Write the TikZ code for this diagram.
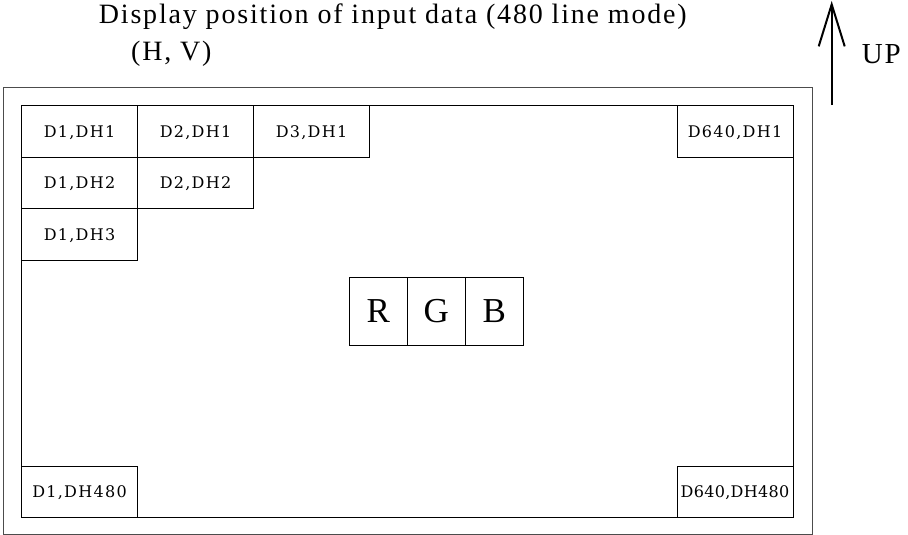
\documentclass[tikz,border=0pt]{standalone}
\usepackage{fontspec}
\setmainfont{Liberation Serif}
\newfontfamily\titlefont[LetterSpace=6.5]{Liberation Serif}
\newfontfamily\cellfont[LetterSpace=8]{DejaVu Serif}
\newfontfamily\tightcellfont[LetterSpace=2]{DejaVu Serif}
\usetikzlibrary{positioning,arrows.meta}

\tikzset{
  cell/.style={draw, line width=1pt, outer sep=0pt, inner sep=0pt,
    minimum width=116pt, minimum height=51.5pt, text depth=0pt,
    font=\cellfont\fontsize{16}{18}\selectfont},
  pix/.style={draw, line width=1pt, outer sep=0pt, inner sep=0pt,
    minimum width=58pt, minimum height=68pt,
    font=\fontsize{35}{40}\selectfont},
  label/.style={anchor=base west, inner sep=0pt}
}

\begin{document}
\begin{tikzpicture}[x=1pt, y=-1pt]
  \useasboundingbox (0,0) rectangle (908,535);
  % heading
  \node [label, font=\titlefont\fontsize{28}{32}\selectfont] (title) at (98.7,24)
    {Display position of input data (480 line mode)};
  \node [label, font=\titlefont\fontsize{28}{32}\selectfont] (hv) at (131,60) {(H, V)};
  % up arrow
  \coordinate (upbot) at (831.7,105);
  \coordinate (uptop) at (831.7,1);
  \draw [-{Straight Barb[length=42pt,width=26pt]}, line width=2pt] (upbot) -- (uptop);
  \node [label, font=\titlefont\fontsize{29}{32}\selectfont] (up) at (861.7,63.3) {UP};
  % frames
  \draw [black!70, line width=1pt] (3,88) rectangle (812,534);
  \draw [line width=1pt] (21.5,105.5) rectangle (793,517.5);
  % cells
  \node [cell, anchor=north west] (d1h1) at (21.5,105.5) {D1,DH1};
  \node [cell, right=0pt of d1h1] (d2h1) {D2,DH1};
  \node [cell, right=0pt of d2h1] (d3h1) {D3,DH1};
  \node [cell, below=0pt of d1h1] (d1h2) {D1,DH2};
  \node [cell, right=0pt of d1h2] (d2h2) {D2,DH2};
  \node [cell, below=0pt of d1h2] (d1h3) {D1,DH3};
  \node [cell, anchor=north east] (d640h1) at (793,105.5) {D640,DH1};
  \node [cell, anchor=south west] (d1h480) at (21.5,517.5) {D1,DH480};
  \node [cell, anchor=south east, font=\tightcellfont\fontsize{16}{18}\selectfont] (d640h480) at (793,517.5) {D640,DH480};
  % one pixel
  \node [pix, anchor=north west] (r) at (349.3,277.3) {R};
  \node [pix, right=0pt of r] (g) {G};
  \node [pix, right=0pt of g] (b) {B};
\end{tikzpicture}
\end{document}
